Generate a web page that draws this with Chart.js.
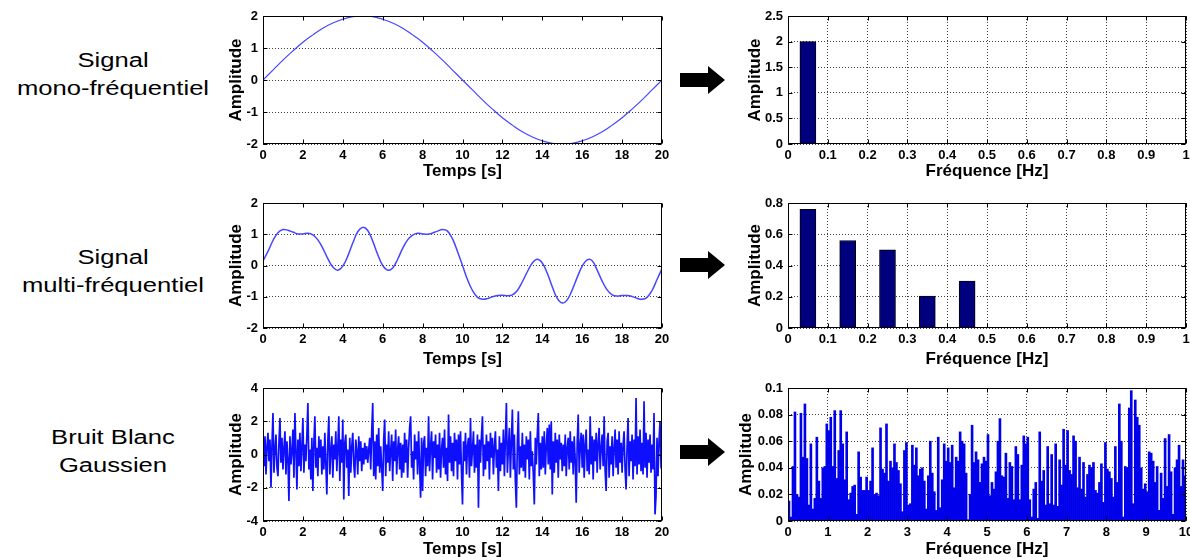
<!DOCTYPE html>
<html>
<head>
<meta charset="utf-8">
<script src="https://cdn.jsdelivr.net/npm/chart.js@4.4.1/dist/chart.umd.min.js"></script>
<style>
  body { margin: 0; background: #fff; width: 1190px; height: 560px; overflow: hidden; position: relative;
         font-family: "Liberation Sans", Arial, sans-serif; }
  canvas { position: absolute; }
  .lbl { position: absolute; left: 0; width: 226px; text-align: center; font-size: 20px; line-height: 28px;
         transform: scaleX(1.28); color: #000; }
  .arrow { position: absolute; left: 680px; }
</style>
</head>
<body>

<div class="lbl" style="top:46px">Signal<br>mono-fréquentiel</div>
<div class="lbl" style="top:243px">Signal<br>multi-fréquentiel</div>
<div class="lbl" style="top:423px">Bruit Blanc<br>Gaussien</div>

<svg class="arrow" style="top:66px" width="46" height="28"><polygon points="0,7 28,7 28,0 45,14 28,28 28,21 0,21" fill="#000"/></svg>
<svg class="arrow" style="top:251px" width="46" height="28"><polygon points="0,7 28,7 28,0 45,14 28,28 28,21 0,21" fill="#000"/></svg>
<svg class="arrow" style="top:438px" width="46" height="28"><polygon points="0,7 28,7 28,0 45,14 28,28 28,21 0,21" fill="#000"/></svg>

<canvas id="c-mono" width="454" height="182" style="left:226px;top:0px"></canvas>
<canvas id="c-multi" width="454" height="183" style="left:226px;top:187px"></canvas>
<canvas id="c-noise" width="454" height="188" style="left:226px;top:372px"></canvas>
<canvas id="f-mono" width="445" height="182" style="left:745px;top:0px"></canvas>
<canvas id="f-multi" width="445" height="183" style="left:745px;top:187px"></canvas>
<canvas id="f-noise" width="454" height="188" style="left:736px;top:372px"></canvas>

<script>
// time signals (sampled every *Step seconds)
var sineStep = 0.5;
var sineValues = [0,0.31,0.62,0.91,1.18,1.41,1.62,1.78,1.90,1.98,2.0,1.98,1.90,1.78,1.62,1.41,1.18,0.91,0.62,0.31,
  0,-0.31,-0.62,-0.91,-1.18,-1.41,-1.62,-1.78,-1.90,-1.98,-2.0,-1.98,-1.90,-1.78,-1.62,-1.41,-1.18,-0.91,-0.62,-0.31,0];

var multiStep = 0.25;
var multiValues = [0.15,0.45,0.8,1.05,1.15,1.13,1.07,1.01,1.01,1.03,0.98,0.82,0.55,0.22,-0.05,-0.15,-0.02,0.3,0.72,1.08,
  1.22,1.12,0.78,0.35,0.0,-0.15,-0.08,0.2,0.55,0.82,0.97,1.03,1.01,1.0,1.04,1.1,1.15,1.1,0.85,0.45,
  0.0,-0.45,-0.8,-1.02,-1.08,-1.06,-1.0,-0.96,-0.95,-0.97,-0.94,-0.8,-0.52,-0.2,0.08,0.2,0.08,-0.25,-0.68,-1.05,
  -1.2,-1.1,-0.78,-0.38,-0.02,0.18,0.15,-0.15,-0.5,-0.78,-0.94,-0.98,-0.96,-0.96,-0.99,-1.05,-1.08,-1.02,-0.8,-0.45,-0.1];

var noiseStep = 0.05;
var noiseValues = [
  0.2,-0.7,1.1,-1.2,0.5,1.3,-0.4,0.9,-2.0,0.6,2.5,-1.1,0.3,1.2,-0.8,-1.3,0.7,2.2,-0.5,1.0,
  -0.9,0.4,1.4,-1.2,0.8,-0.3,-2.8,1.1,-0.6,0.2,1.5,-1.4,2.5,0.3,-2.1,0.9,-0.7,1.3,-1.0,0.5,
  2.2,-1.1,0.6,-0.4,1.2,3.1,-0.9,0.3,-1.5,1.0,-2.2,0.7,2.3,-0.8,0.4,-1.3,1.1,-0.2,0.9,-1.2,
  0.5,-0.9,1.3,-0.6,-2.4,0.8,2.3,-1.2,0.2,1.1,-1.4,0.6,-0.3,1.4,-1.0,0.4,2.3,-1.6,0.9,-0.5,
  2.1,-2.7,0.7,1.2,-0.8,0.3,-2.5,1.0,-1.1,0.5,1.3,-0.6,-1.4,0.9,0.2,-1.2,1.1,-0.4,0.8,-1.0,
  0.4,-0.6,0.7,-0.3,0.5,-0.5,0.3,1.0,-0.9,1.4,3.1,-1.3,0.8,-1.5,1.2,-0.7,1.6,-1.1,0.5,-0.8,
  -2.2,0.9,2.1,-1.3,0.6,-0.5,1.4,-1.0,0.2,1.2,-1.6,0.8,-0.4,1.5,-1.2,0.3,1.1,-0.9,0.7,-1.4,
  0.6,-1.1,1.3,-0.5,0.9,-1.4,0.4,1.6,2.3,-0.8,0.2,-1.5,1.2,-0.3,0.8,-1.2,1.4,-0.6,-2.6,1.0,
  -2.2,0.7,1.1,-1.3,0.4,-0.7,2.3,-1.0,0.5,1.4,-1.5,0.8,-0.2,1.2,-1.1,0.6,-0.9,1.3,-1.4,0.3,
  1.0,-0.8,1.5,-1.2,0.4,-1.6,2.4,-0.5,1.1,-1.0,0.7,-1.3,1.3,-0.4,0.9,-1.5,1.2,-0.6,1.4,-1.1,
  -3.0,0.8,-0.4,1.3,-1.2,0.5,1.0,-1.4,2.2,-0.7,0.3,1.4,-1.1,0.6,-0.8,1.2,-3.2,0.9,-0.5,1.1,
  2.3,-1.3,0.6,-0.9,1.2,-0.4,0.8,-1.5,1.3,-0.2,1.0,-1.2,0.5,1.4,-0.8,0.3,-2.2,1.1,-1.0,0.7,
  -0.6,1.5,-1.3,0.9,3.1,-1.1,0.4,1.6,-1.4,0.8,2.7,-0.9,1.2,-1.6,-3.2,0.7,2.6,-1.2,0.5,-0.8,
  1.3,-1.0,0.6,-1.4,1.1,-0.3,0.9,-1.5,1.4,-0.7,0.2,-1.2,-3.0,1.0,-0.6,1.2,2.5,-1.3,0.7,-0.9,
  1.1,-0.8,1.4,-1.2,0.5,1.6,-0.6,1.8,-0.9,2.0,-2.4,0.8,-1.1,1.3,-0.5,0.9,-1.4,1.2,-0.3,0.7,
  -1.0,0.6,-0.7,1.2,-1.3,0.4,1.0,-0.9,1.4,-0.5,0.8,-1.2,1.1,-0.4,-2.9,0.7,2.4,-1.1,0.5,1.3,
  -0.8,1.2,-1.4,0.6,1.5,-1.0,0.3,-1.2,2.3,-0.6,1.1,-1.5,0.9,-0.4,1.3,-1.1,0.7,1.6,-0.9,0.4,
  1.2,-0.7,2.3,-1.0,-2.2,0.8,1.3,-1.4,0.5,-0.6,1.1,-1.3,0.4,1.5,-0.8,0.9,-1.2,1.4,-0.5,0.7,
  -1.1,0.6,1.4,-0.9,-2.1,0.5,2.2,-1.3,0.8,-0.4,1.2,-1.5,0.9,-0.7,3.4,-1.2,1.1,-0.6,1.5,-1.0,
  0.7,-1.2,3.2,-0.8,1.3,-1.4,0.9,-0.5,1.2,-1.1,0.6,-0.9,2.5,-3.6,-2.5,1.0,-1.3,0.8,2.0,-0.6,
  -0.4];

// spectra
var monoFreq = [0.05];
var monoAmp = [2.0];
var multiFreq = [0.05, 0.15, 0.25, 0.35, 0.45];
var multiAmp = [0.76, 0.56, 0.50, 0.205, 0.30];

var spectrumStep = 0.05;
var noiseSpectrum = [
  0.015,0.003,0.041,0.082,0.020,0.018,0.081,0.048,0.088,0.047,0.012,0.058,0.009,0.017,0.063,0.030,0.017,0.040,0.041,0.073,
  0.068,0.078,0.041,0.083,0.032,0.053,0.083,0.058,0.031,0.067,0.016,0.021,0.026,0.027,0.005,0.052,0.033,0.023,0.023,0.033,
  0.023,0.030,0.055,0.020,0.021,0.019,0.070,0.039,0.036,0.073,0.030,0.045,0.040,0.058,0.044,0.038,0.028,0.007,0.053,0.059,
  0.012,0.013,0.057,0.042,0.055,0.034,0.039,0.040,0.030,0.009,0.034,0.060,0.036,0.022,0.008,0.063,0.010,0.031,0.058,0.045,
  0.055,0.044,0.057,0.025,0.048,0.045,0.067,0.060,0.058,0.036,0.001,0.020,0.072,0.044,0.052,0.046,0.029,0.043,0.048,0.045,
  0.065,0.019,0.029,0.024,0.037,0.060,0.077,0.034,0.033,0.051,0.017,0.044,0.041,0.016,0.056,0.050,0.016,0.042,0.064,0.058,
  0.063,0.016,0.003,0.024,0.029,0.002,0.067,0.030,0.038,0.012,0.056,0.013,0.050,0.012,0.058,0.011,0.046,0.027,0.069,0.042,
  0.068,0.038,0.035,0.064,0.060,0.025,0.048,0.024,0.044,0.018,0.035,0.042,0.040,0.044,0.023,0.021,0.029,0.043,0.014,0.059,
  0.039,0.037,0.032,0.018,0.056,0.029,0.088,0.060,0.003,0.041,0.040,0.085,0.098,0.013,0.091,0.078,0.072,0.040,0.024,0.028,
  0.022,0.052,0.051,0.045,0.029,0.041,0.008,0.036,0.017,0.062,0.026,0.065,0.037,0.005,0.040,0.046,0.057,0.026,0.046,0.034];

Chart.defaults.font.family = '"Liberation Sans", Arial, sans-serif';
Chart.defaults.color = '#000';
Chart.defaults.animation = false;

var tickFont = { size: 13, weight: 'bold' };
var titleFont = { size: 17, weight: 'bold' };
var gridColor = 'rgba(0,0,0,0.75)';

function fmt(v) {
  return String(+v.toFixed(3));
}

// black frame + inward tick marks, like the matlab axes
var boxPlugin = {
  id: 'matlabBox',
  afterDraw: function(chart) {
    var ctx = chart.ctx, a = chart.chartArea, sx = chart.scales.x, sy = chart.scales.y;
    var l = Math.round(a.left) + 0.5, r = Math.round(a.right) - 0.5;
    var t = Math.round(a.top) + 0.5, b = Math.round(a.bottom) - 0.5;
    ctx.save();
    ctx.strokeStyle = '#000';
    ctx.lineWidth = 1;
    ctx.beginPath();
    sx.ticks.forEach(function(tk) {
      var p = Math.round(sx.getPixelForValue(tk.value)) + 0.5;
      ctx.moveTo(p, b); ctx.lineTo(p, b - 4);
      ctx.moveTo(p, t); ctx.lineTo(p, t + 4);
    });
    sy.ticks.forEach(function(tk) {
      var p = Math.round(sy.getPixelForValue(tk.value)) + 0.5;
      ctx.moveTo(l, p); ctx.lineTo(l + 4, p);
      ctx.moveTo(r, p); ctx.lineTo(r - 4, p);
    });
    ctx.stroke();
    ctx.strokeRect(l, t, r - l, b - t);
    ctx.restore();
  }
};

function xAxis(max, step, title, showGrid, axisH) {
  return {
    type: 'linear', min: 0, max: max, offset: false,
    afterFit: function(s) { s.height = axisH; s.paddingLeft = 0; s.paddingRight = 0; },
    ticks: { stepSize: step, padding: 4, font: tickFont, maxRotation: 0, autoSkip: false, callback: fmt },
    grid: { display: showGrid, drawTicks: false, color: gridColor, offset: false },
    border: { display: false, dash: [1, 2] },
    title: { display: true, text: title, font: titleFont, padding: 0 }
  };
}

function yAxis(min, max, step, axisW) {
  return {
    min: min, max: max,
    afterFit: function(s) { s.width = axisW; s.paddingTop = 0; s.paddingBottom = 0; },
    ticks: { stepSize: step, padding: 5, font: tickFont, callback: fmt },
    grid: { drawTicks: false, color: gridColor },
    border: { display: false, dash: [1, 2] },
    title: { display: true, text: 'Amplitude', font: titleFont, padding: 0 }
  };
}

function makeChart(id, type, dataset, xs, ys, padRight) {
  return new Chart(document.getElementById(id), {
    type: type,
    data: { datasets: [dataset] },
    options: {
      responsive: false,
      devicePixelRatio: 1,
      layout: { padding: { top: 16, right: padRight, left: 0, bottom: 0 } },
      scales: { x: xs, y: ys },
      plugins: { legend: { display: false }, tooltip: { enabled: false } }
    },
    plugins: [boxPlugin]
  });
}

function timeLine(values, step, color, width, tension) {
  return {
    data: values.map(function(v, i) { return { x: i * step, y: v }; }),
    borderColor: color, borderWidth: width, pointRadius: 0, tension: tension, fill: false
  };
}

// left column: time signals
makeChart('c-mono', 'line', timeLine(sineValues, sineStep, 'rgb(70,70,255)', 1.2, 0.4),
  xAxis(20, 2, 'Temps [s]', false, 38), yAxis(-2, 2, 1, 37), 18);
makeChart('c-multi', 'line', timeLine(multiValues, multiStep, 'rgb(70,70,255)', 1.5, 0.4),
  xAxis(20, 2, 'Temps [s]', false, 42), yAxis(-2, 2, 1, 37), 18);
makeChart('c-noise', 'line', timeLine(noiseValues, noiseStep, 'rgb(15,15,255)', 1.7, 0),
  xAxis(20, 2, 'Temps [s]', false, 39), yAxis(-4, 4, 2, 37), 18);

// right column: spectra
makeChart('f-mono', 'bar', {
    data: monoFreq.map(function(f, i) { return { x: f, y: monoAmp[i] }; }),
    backgroundColor: '#00007f', borderColor: '#000', borderWidth: 1, barThickness: 16
  }, xAxis(1, 0.1, 'Fréquence [Hz]', true, 38), yAxis(0, 2.5, 0.5, 43), 4);
makeChart('f-multi', 'bar', {
    data: multiFreq.map(function(f, i) { return { x: f, y: multiAmp[i] }; }),
    backgroundColor: '#00007f', borderColor: '#000', borderWidth: 1, barThickness: 16
  }, xAxis(1, 0.1, 'Fréquence [Hz]', true, 42), yAxis(0, 0.8, 0.2, 43), 4);
makeChart('f-noise', 'bar', {
    data: noiseSpectrum.map(function(v, i) { return { x: (i + 0.5) * spectrumStep, y: v }; }),
    backgroundColor: 'rgb(0,0,235)', borderWidth: 0, barPercentage: 1, categoryPercentage: 1
  }, xAxis(10, 1, 'Fréquence [Hz]', true, 39), yAxis(0, 0.1, 0.02, 52), 4);
</script>
</body>
</html>
